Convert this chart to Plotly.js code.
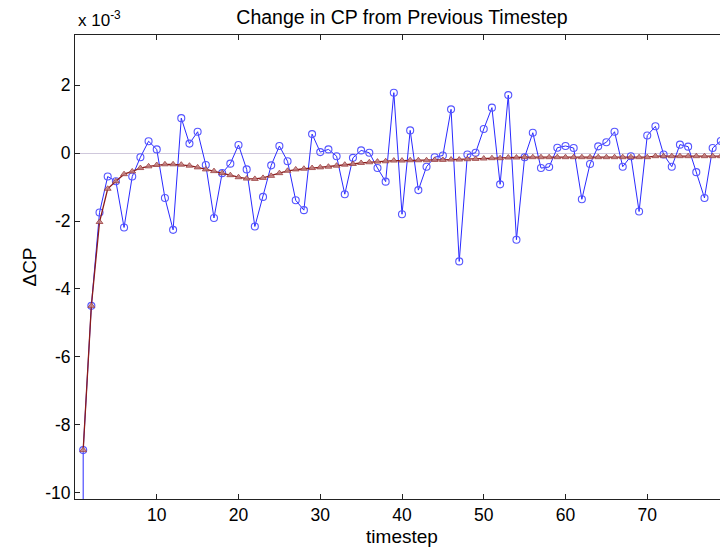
<!DOCTYPE html>
<html>
<head>
<meta charset="utf-8">
<script src="https://cdn.plot.ly/plotly-3.0.1.min.js"></script>
<style>
html,body{margin:0;padding:0;overflow:hidden;background:#fff;width:720px;height:547px;}
#chart{width:729px;height:547px;}
</style>
</head>
<body>
<div id="chart"></div>
<script>
// timesteps
const timestep = [];
for (let i = 1; i <= 79; i++) timestep.push(i);

// ΔCP per timestep (units of 1e-3)
const deltaCP = [
  -8.75, -4.50, -1.75, -0.69, -0.83, -2.19, -0.69, -0.12, 0.35, 0.11,
  -1.32, -2.26, 1.03, 0.28, 0.63, -0.35, -1.91, -0.59, -0.31, 0.24,
  -0.48, -2.16, -1.29, -0.36, 0.21, -0.24, -1.39, -1.68, 0.56, 0.03,
  0.11, -0.09, -1.21, -0.14, 0.08, 0.01, -0.44, -0.84, 1.78, -1.80,
  0.67, -1.09, -0.40, -0.12, -0.07, 1.29, -3.19, -0.04, 0.01, 0.71,
  1.34, -0.92, 1.71, -2.55, -0.12, 0.60, -0.44, -0.41, 0.16, 0.21,
  0.15, -1.36, -0.32, 0.20, 0.32, 0.63, -0.40, -0.09, -1.72, 0.52,
  0.79, -0.04, -0.40, 0.25, 0.19, -0.56, -1.32, 0.15, 0.36
];
// value before the first plotted step (off the bottom of the axis)
const leadInX = 1;
const leadInY = -30;

// smoothed ΔCP (units of 1e-3)
const smoothCP = [
  -8.75, -4.50, -2.03, -1.05, -0.83, -0.62, -0.54, -0.44, -0.39, -0.35,
  -0.33, -0.33, -0.34, -0.37, -0.42, -0.48, -0.53, -0.59, -0.65, -0.71,
  -0.75, -0.76, -0.73, -0.67, -0.59, -0.52, -0.48, -0.46, -0.44, -0.42,
  -0.40, -0.37, -0.34, -0.32, -0.29, -0.27, -0.25, -0.24, -0.22, -0.22,
  -0.21, -0.21, -0.21, -0.20, -0.20, -0.19, -0.19, -0.18, -0.17, -0.16,
  -0.15, -0.15, -0.13, -0.13, -0.12, -0.12, -0.12, -0.12, -0.12, -0.12,
  -0.12, -0.12, -0.12, -0.12, -0.12, -0.12, -0.12, -0.12, -0.12, -0.12,
  -0.09, -0.09, -0.09, -0.09, -0.09, -0.09, -0.09, -0.09, -0.09
];

const xTicks = [10, 20, 30, 40, 50, 60, 70];
const yTicks = [-10, -8, -6, -4, -2, 0, 2];

const FONT = 'Liberation Sans, Arial, Helvetica, sans-serif';

const traces = [
  {
    x: [leadInX].concat(timestep),
    y: [leadInY].concat(deltaCP),
    type: 'scatter',
    mode: 'lines+markers',
    line: {color: '#2a2aff', width: 1},
    marker: {symbol: 'circle-open', size: 7, color: '#5555ff', line: {width: 1.1}},
    cliponaxis: true,
    hoverinfo: 'skip'
  },
  {
    x: timestep,
    y: smoothCP,
    type: 'scatter',
    mode: 'lines+markers',
    line: {color: '#8b1a1a', width: 1.3},
    marker: {symbol: 'triangle-up', size: 6, color: 'rgba(195,130,130,0.85)', line: {color: '#9a4040', width: 0.8}},
    cliponaxis: true,
    hoverinfo: 'skip'
  }
];

const layout = {
  width: 729,
  height: 547,
  margin: {l: 75, r: 0, t: 35, b: 48, pad: 0},
  paper_bgcolor: '#ffffff',
  plot_bgcolor: '#ffffff',
  showlegend: false,
  font: {family: FONT, color: '#000'},
  title: {
    text: 'Change in CP from Previous Timestep',
    font: {family: FONT, size: 19.5, color: '#000'},
    x: 0.5, xref: 'paper', xanchor: 'center',
    y: 0.969, yref: 'container', yanchor: 'middle'
  },
  xaxis: {
    range: [0, 80],
    tickvals: xTicks,
    ticktext: xTicks.map(String),
    ticks: 'inside',
    ticklen: 5,
    tickcolor: '#222',
    showline: true,
    linecolor: '#222',
    linewidth: 1,
    mirror: 'ticks',
    showgrid: false,
    zeroline: false,
    tickfont: {family: FONT, size: 17.5, color: '#000'},
    title: {text: 'timestep', font: {family: FONT, size: 19, color: '#000'}, standoff: 6}
  },
  yaxis: {
    range: [-10.19, 3.48],
    tickvals: yTicks,
    ticktext: yTicks.map(String),
    ticks: 'inside',
    ticklen: 5,
    tickcolor: '#222',
    showline: true,
    linecolor: '#222',
    linewidth: 1,
    mirror: 'ticks',
    showgrid: false,
    zeroline: true,
    zerolinecolor: '#cfc8dc',
    zerolinewidth: 1,
    tickfont: {family: FONT, size: 17.5, color: '#000'},
    title: {text: 'ΔCP', font: {family: FONT, size: 19, color: '#000'}, standoff: 3}
  },
  annotations: [
    {
      text: 'x 10<sup>-3</sup>',
      xref: 'paper', yref: 'paper',
      x: 0, y: 1, xanchor: 'left', yanchor: 'bottom',
      yshift: 3, xshift: 1,
      showarrow: false,
      font: {family: FONT, size: 17, color: '#000'}
    }
  ]
};

Plotly.newPlot('chart', traces, layout, {displayModeBar: false, staticPlot: true});
</script>
</body>
</html>
